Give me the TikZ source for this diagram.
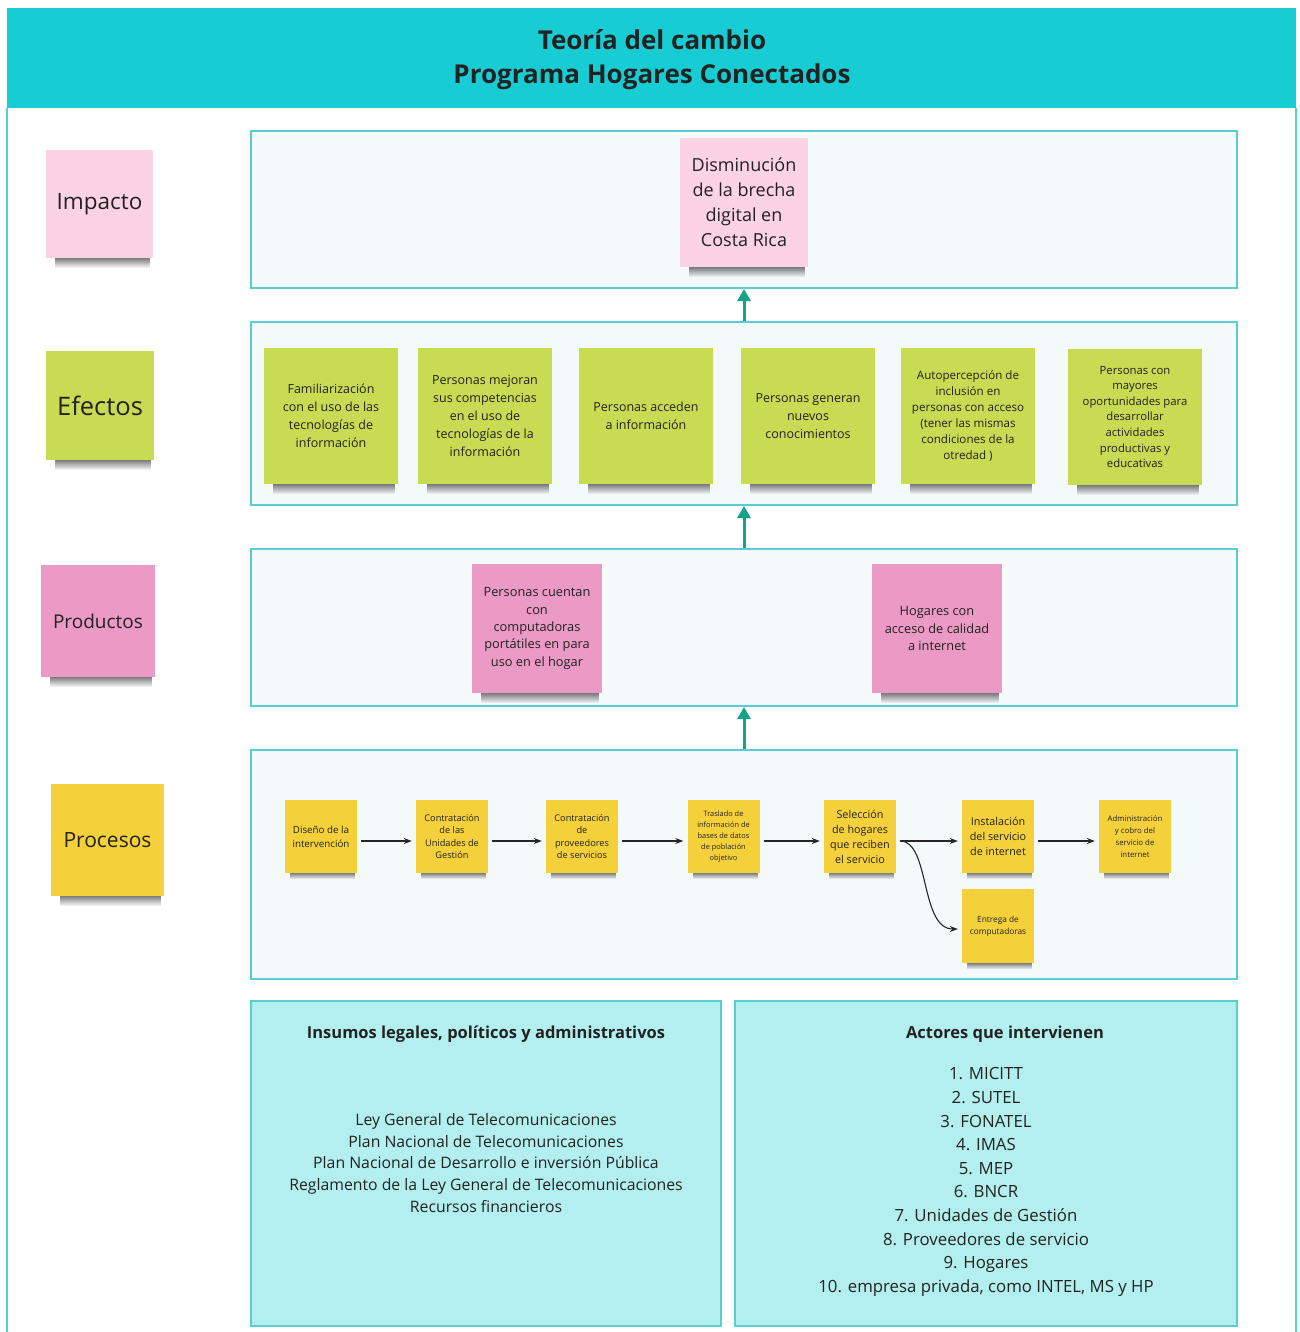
\documentclass[tikz,border=0pt]{standalone}
\usepackage{fontspec}
\setmainfont{Open Sans}
\usetikzlibrary{calc,arrows.meta,fadings}
\definecolor{headc}{HTML}{17CDD3}
\definecolor{framec}{HTML}{55CFD3}
\definecolor{panelc}{HTML}{F4F9F9}
\definecolor{boxc}{HTML}{B4EFF0}
\definecolor{arrc}{HTML}{14A388}
\definecolor{pinkL}{HTML}{FCD3E2}
\definecolor{pinkD}{HTML}{EB9AC5}
\definecolor{greenN}{HTML}{C8DB52}
\definecolor{yellowN}{HTML}{F4D03A}
\definecolor{txt}{HTML}{222222}
\pgfdeclarelayer{bg}
\pgfdeclarelayer{shad}
\pgfsetlayers{bg,shad,main}
\newcommand{\noteshadow}[2][1]{%
\begin{pgfonlayer}{shad}
\fill[black, opacity=0.55, path fading=south] ($(#2.south west)+(9*#1,-1)$) rectangle ($(#2.south east)+(-3*#1,10*#1)$);
\end{pgfonlayer}}
\tikzset{
  note/.style={inner sep=1pt, align=center, text=txt},
  sz/.style 2 args={minimum width=#1, minimum height=#2},
  panel/.style={draw=framec, fill=panelc, line width=2pt, inner sep=0pt},
  infobox/.style={draw=framec, fill=boxc, line width=2pt, inner sep=0pt},
  uparrow/.style={draw=arrc, line width=3pt, -{Triangle[length=12pt,width=13pt]}},
  flow/.style={draw=black!85, line width=1.1pt, -{Stealth[length=8pt,width=6pt]}},
  ttl/.style={font=\bfseries\fontsize{26}{34}\selectfont, align=center, text=txt},
  boxhead/.style={font=\bfseries\fontsize{16.5}{22}\selectfont, text=txt},
  boxtext/.style={align=center, text=txt}
}
\begin{document}
\begin{tikzpicture}[x=1pt,y=-1pt]
\useasboundingbox (0,0) rectangle (1299,1332);
\begin{pgfonlayer}{bg}
\fill[white] (0,0) rectangle (1299,1332);
\end{pgfonlayer}
% header and frame
\node[fill=headc, sz={1289}{100}, inner sep=0pt] (head) at (651.5,58) {};
\node[ttl] (title) at (652,60) {Teoría del cambio\\Programa Hogares Conectados};
\draw[framec, line width=2pt] (7,108) -- (7,1333);
\draw[framec, line width=2pt] (1296,108) -- (1296,1333);
% panels
\begin{pgfonlayer}{bg}
\node[panel, sz={986}{157}] (pImp) at (744,209.5) {};
\node[panel, sz={986}{183}] (pEfe) at (744,413.5) {};
\node[panel, sz={986}{157}] (pPro) at (744,627.5) {};
\node[panel, sz={986}{229}] (pPcs) at (744,864.5) {};
\node[infobox, sz={470}{325}] (bIns) at (486,1163.5) {};
\node[infobox, sz={502}{325}] (bAct) at (986,1163.5) {};
\end{pgfonlayer}
% arrows between levels
\draw[uparrow] (pEfe.north) -- (pImp.south);
\draw[uparrow] (pPro.north) -- (pEfe.south);
\draw[uparrow] (pPcs.north) -- (pPro.south);
% left labels
\node[note, fill=pinkL, sz={107}{108}, font=\fontsize{22.5}{28}\selectfont] (lImp) at (99.5,204) {Impacto};
\node[note, fill=greenN, sz={108}{109}, font=\fontsize{25.5}{30}\selectfont] (lEfe) at (100,405.5) {Efectos};
\node[note, fill=pinkD, sz={114}{112}, font=\fontsize{19}{24}\selectfont] (lPro) at (98,621) {Productos};
\node[note, fill=yellowN, sz={113}{112}, font=\fontsize{21}{26}\selectfont] (lPcs) at (107.5,840) {Procesos};
\noteshadow{lImp}\noteshadow{lEfe}\noteshadow{lPro}\noteshadow{lPcs}
% impact
\node[note, fill=pinkL, sz={128}{129}, font=\fontsize{18}{25}\selectfont] (imp) at (744,202.5) {Disminución\\de la brecha\\digital en\\Costa Rica};
\noteshadow{imp}
% effects
\tikzset{eff/.style={note, fill=greenN, sz={134}{136}, font=\fontsize{12.5}{18}\selectfont}}
\node[eff] (e1) at (331,416) {Familiarización\\con el uso de las\\tecnologías de\\información};
\node[eff] (e2) at (485,416) {Personas mejoran\\sus competencias\\en el uso de\\tecnologías de la\\información};
\node[eff] (e3) at (646,416) {Personas acceden\\a información};
\node[eff] (e4) at (808,416) {Personas generan\\nuevos\\conocimientos};
\node[eff, font=\fontsize{11.6}{16}\selectfont] (e5) at (968,416) {Autopercepción de\\inclusión en\\personas con acceso\\(tener las mismas\\condiciones de la\\otredad )};
\node[eff, font=\fontsize{11.3}{15.6}\selectfont] (e6) at (1135,417) {Personas con\\mayores\\oportunidades para\\desarrollar\\actividades\\productivas y\\educativas};
\foreach \n in {e1,e2,e3,e4,e5,e6}{\noteshadow{\n}}
% products
\tikzset{prd/.style={note, fill=pinkD, sz={130}{129}, font=\fontsize{12.8}{17.3}\selectfont}}
\node[prd] (p1) at (537,628.5) {Personas cuentan\\con\\computadoras\\portátiles en para\\uso en el hogar};
\node[prd] (p2) at (937,628.5) {Hogares con\\acceso de calidad\\a internet};
\noteshadow{p1}\noteshadow{p2}
% processes
\tikzset{prc/.style={note, fill=yellowN, sz={72}{73}}}
\node[prc, font=\fontsize{9.8}{14}\selectfont] (c1) at (321,836.5) {Diseño de la\\intervención};
\node[prc, font=\fontsize{9.2}{12.6}\selectfont] (c2) at (452,836.5) {Contratación\\de las\\Unidades de\\Gestión};
\node[prc, font=\fontsize{9.2}{12.6}\selectfont] (c3) at (582,836.5) {Contratación\\de\\proveedores\\de servicios};
\node[prc, font=\fontsize{7.4}{11}\selectfont] (c4) at (723.5,836.5) {Traslado de\\información de\\bases de datos\\de población\\objetivo};
\node[prc, font=\fontsize{10.8}{15}\selectfont] (c5) at (860,836.5) {Selección\\de hogares\\que reciben\\el servicio};
\node[prc, font=\fontsize{10.8}{15}\selectfont] (c6) at (998,836.5) {Instalación\\del servicio\\de internet};
\node[prc, font=\fontsize{7.8}{12}\selectfont] (c7) at (1135,836.5) {Administración\\y cobro del\\servicio de\\internet};
\node[prc, sz={72}{74}, font=\fontsize{8.3}{12}\selectfont] (c8) at (998,926) {Entrega de\\computadoras};
\foreach \n in {c1,c2,c3,c4,c5,c6,c7,c8}{\noteshadow[0.6]{\n}}
\draw[flow] ($(c1.east)+(4,4.5)$) -- ($(c2.west)+(-4,4.5)$);
\draw[flow] ($(c2.east)+(4,4.5)$) -- ($(c3.west)+(-4,4.5)$);
\draw[flow] ($(c3.east)+(4,4.5)$) -- ($(c4.west)+(-4,4.5)$);
\draw[flow] ($(c4.east)+(4,4.5)$) -- ($(c5.west)+(-4,4.5)$);
\draw[flow] ($(c5.east)+(4,4.5)$) -- ($(c6.west)+(-4,4.5)$);
\draw[flow] ($(c6.east)+(4,4.5)$) -- ($(c7.west)+(-4,4.5)$);
\coordinate (cs) at ($(c5.east)+(4,4.5)$);
\coordinate (ce) at ($(c8.west)+(-4,3)$);
\draw[flow] (cs) .. controls ($(cs)+(30,0)$) and ($(ce)+(-38,0)$) .. (ce);
% bottom boxes
\node[boxhead] (hIns) at (486,1034) {Insumos legales, políticos y administrativos};
\node[boxtext, font=\fontsize{15.8}{21.7}\selectfont] (tIns) at (486,1163) {Ley General de Telecomunicaciones\\Plan Nacional de Telecomunicaciones\\Plan Nacional de Desarrollo e inversión Pública\\Reglamento de la Ley General de Telecomunicaciones\\Recursos financieros};
\node[boxhead] (hAct) at (1005,1034) {Actores que intervienen};
\node[boxtext, font=\fontsize{16.8}{23.6}\selectfont] (tAct) at (986,1182) {1. MICITT\\2. SUTEL\\3. FONATEL\\4. IMAS\\5. MEP\\6. BNCR\\7. Unidades de Gestión\\8. Proveedores de servicio\\9. Hogares\\10. empresa privada, como INTEL, MS y HP};
\end{tikzpicture}
\end{document}
